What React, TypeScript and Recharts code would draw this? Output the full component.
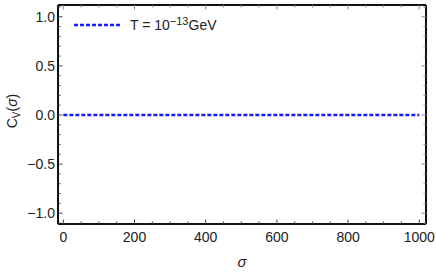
import React from "react";
import { LineChart, Line, XAxis, YAxis } from "recharts";

const sigmaValues = [0, 1000];
const cvValues = [0, 0];
const xTicks = [0, 50, 100, 150, 200, 250, 300, 350, 400, 450, 500, 550, 600, 650, 700, 750, 800, 850, 900, 950, 1000];
const xMajor = [0, 200, 400, 600, 800, 1000];
const yTicks = [-1.1, -1.0, -0.9, -0.8, -0.7, -0.6, -0.5, -0.4, -0.3, -0.2, -0.1, 0, 0.1, 0.2, 0.3, 0.4, 0.5, 0.6, 0.7, 0.8, 0.9, 1.0, 1.1];
const yMajor = [-1.0, -0.5, 0, 0.5, 1.0];
const yLabels: Record<string, string> = { "-1": "\u22121.0", "-0.5": "\u22120.5", "0": "0.0", "0.5": "0.5", "1": "1.0" };

const data = sigmaValues.map((s, i) => ({ sigma: s, cv: cvValues[i] }));

const W = 436, H = 273;
const M = { top: 4, left: 57, right: 9, bottom: 48 };
const FONT = "'Liberation Sans', Arial, sans-serif";
const BLUE = "#1a1aff";

const isMajorX = (v: number) => xMajor.includes(v);
const isMajorY = (v: number) => yMajor.some((m) => Math.abs(m - v) < 1e-6);

const BottomTick = (p: any) => {
  const { x, y, payload } = p;
  const major = isMajorX(payload.value);
  return (
    <g>
      <line x1={x} x2={x} y1={y} y2={y - (major ? 4.5 : 2.5)} stroke="#444" strokeWidth={1} />
      {major && (
        <text x={x} y={y + 18} textAnchor="middle" fontSize={14} fontFamily={FONT} fill="#222">
          {payload.value}
        </text>
      )}
    </g>
  );
};
const TopTick = (p: any) => {
  const { x, y, payload } = p;
  const major = isMajorX(payload.value);
  return <line x1={x} x2={x} y1={y} y2={y + (major ? 4.5 : 2.5)} stroke="#888" strokeWidth={1} />;
};
const LeftTick = (p: any) => {
  const { x, y, payload } = p;
  const major = isMajorY(payload.value);
  const key = String(Math.round(payload.value * 10) / 10);
  return (
    <g>
      <line x1={x} x2={x + (major ? 4.5 : 2.5)} y1={y} y2={y} stroke="#444" strokeWidth={1} />
      {major && (
        <text x={x - 3} y={y + 5} textAnchor="end" fontSize={14} fontFamily={FONT} fill="#222">
          {yLabels[key]}
        </text>
      )}
    </g>
  );
};
const RightTick = (p: any) => {
  const { x, y, payload } = p;
  const major = isMajorY(payload.value);
  return <line x1={x} x2={x - (major ? 4.5 : 2.5)} y1={y} y2={y} stroke="#888" strokeWidth={1} />;
};

const axisLine = { stroke: "#111", strokeWidth: 2 };

export default function App() {
  return (
    <div style={{ position: "fixed", left: 0, top: 0, width: W, height: H, background: "#fff" }}>
      <LineChart width={W} height={H} data={data} margin={M}>
        <XAxis
          dataKey="sigma"
          type="number"
          domain={[-15, 1019]}
          ticks={xTicks}
          allowDataOverflow
          interval={0}
          tickSize={0}
          tickMargin={0}
          tickLine={false}
          tick={BottomTick}
          axisLine={axisLine}
          height={1}
        />
        <XAxis
          xAxisId="top"
          orientation="top"
          dataKey="sigma"
          type="number"
          domain={[-15, 1019]}
          ticks={xTicks}
          allowDataOverflow
          interval={0}
          tickSize={0}
          tickMargin={0}
          tickLine={false}
          tick={TopTick}
          axisLine={axisLine}
          height={1}
        />
        <YAxis
          type="number"
          domain={[-1.11, 1.12]}
          ticks={yTicks}
          allowDataOverflow
          interval={0}
          tickSize={0}
          tickMargin={0}
          tickLine={false}
          tick={LeftTick}
          axisLine={axisLine}
          width={1}
        />
        <YAxis
          yAxisId="right"
          orientation="right"
          type="number"
          domain={[-1.11, 1.12]}
          ticks={yTicks}
          allowDataOverflow
          interval={0}
          tickSize={0}
          tickMargin={0}
          tickLine={false}
          tick={RightTick}
          axisLine={axisLine}
          width={1}
        />
        <Line
          dataKey="cv"
          stroke={BLUE}
          strokeWidth={2.3}
          strokeDasharray="4 2"
          dot={false}
          isAnimationActive={false}
        />
      </LineChart>
      <div
        style={{
          position: "absolute",
          left: 74,
          top: 17,
          display: "flex",
          alignItems: "center",
          fontFamily: FONT,
          fontSize: 14,
          color: "#222",
          whiteSpace: "nowrap",
        }}
      >
        <svg width={46} height={6} style={{ marginRight: 10 }}>
          <line x1={0} x2={46} y1={3} y2={3} stroke={BLUE} strokeWidth={2.3} strokeDasharray="4 2" />
        </svg>
        <span>
          T = 10<sup style={{ fontSize: 11, verticalAlign: "5px", lineHeight: 0 }}>{"\u221213"}</sup>GeV
        </span>
      </div>
      <div
        style={{
          position: "absolute",
          left: 12,
          top: 111,
          transform: "translate(-50%, -50%) rotate(-90deg)",
          fontFamily: FONT,
          fontSize: 14,
          color: "#222",
          whiteSpace: "nowrap",
        }}
      >
        C<sub style={{ fontSize: 10, verticalAlign: "-3px", lineHeight: 0 }}>V</sub>(<i>σ</i>)
      </div>
      <div
        style={{
          position: "absolute",
          left: 242,
          top: 261,
          transform: "translate(-50%, -50%)",
          fontFamily: FONT,
          fontSize: 15,
          fontStyle: "italic",
          color: "#222",
        }}
      >
        σ
      </div>
    </div>
  );
}
